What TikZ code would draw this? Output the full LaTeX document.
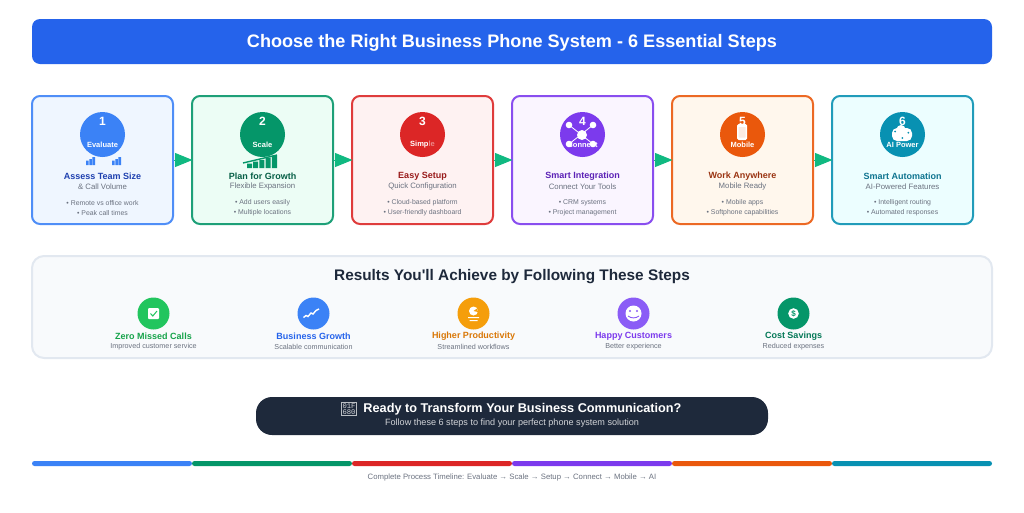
\documentclass[tikz,border=0pt]{standalone}
\usepackage{fontspec}
\setmainfont[Ligatures=TeXOff]{Liberation Sans}
\setmonofont{Liberation Mono}
\usetikzlibrary{arrows.meta}
\definecolor{cblue}{HTML}{3B82F6}
\definecolor{cgreen}{HTML}{059669}
\definecolor{cred}{HTML}{DC2626}
\definecolor{cpurple}{HTML}{7C3AED}
\definecolor{corange}{HTML}{EA580C}
\definecolor{cteal}{HTML}{0891B2}
\definecolor{bgblue}{HTML}{EFF6FF}
\definecolor{bggreen}{HTML}{ECFDF5}
\definecolor{bgred}{HTML}{FEF2F2}
\definecolor{bgpurple}{HTML}{FAF5FF}
\definecolor{bgorange}{HTML}{FFF7ED}
\definecolor{bgteal}{HTML}{ECFEFF}
\definecolor{tblue}{HTML}{1E40AF}
\definecolor{tgreen}{HTML}{065F46}
\definecolor{tred}{HTML}{991B1B}
\definecolor{tpurple}{HTML}{5B21B6}
\definecolor{torange}{HTML}{9A3412}
\definecolor{tteal}{HTML}{0E7490}
\definecolor{headblue}{HTML}{2563EB}
\definecolor{resgreen}{HTML}{22C55E}
\definecolor{labgreen}{HTML}{16A34A}
\definecolor{labmoney}{HTML}{047857}
\definecolor{resamber}{HTML}{F59E0B}
\definecolor{resamberdark}{HTML}{D97706}
\definecolor{respurple}{HTML}{8B5CF6}
\definecolor{panelline}{HTML}{E2E8F0}
\definecolor{panelfill}{HTML}{F8FAFC}
\definecolor{greyline}{HTML}{6B7280}
\definecolor{darkslate}{HTML}{1E293B}
\definecolor{arrowgreen}{HTML}{10B981}
\newcommand{\fs}[1]{\fontsize{#1}{#1}\selectfont}
\tikzset{
	card/.style={draw=#1!90!white, rectangle, rounded corners=8pt, line width=2pt, inner sep=0pt, minimum width=141pt, minimum height=128pt},
	badge/.style={circle, inner sep=0pt, minimum size=45pt, fill=#1},
	num/.style={text=white, inner sep=0pt, font=\fs{12}\bfseries},
	tag/.style={text=white, inner sep=0pt, font=\fs{7.5}\bfseries},
	steptitle/.style={text=#1, inner sep=0pt, font=\fs{9}\bfseries},
	stepsub/.style={text=greyline, inner sep=0pt, font=\fs{7.8}},
	bullets/.style={text=greyline, inner sep=0pt, align=center, font=\fontsize{6.9}{10}\selectfont},
	resbadge/.style={circle, inner sep=0pt, minimum size=32pt, fill=#1},
	restitle/.style={text=#1, inner sep=0pt, font=\fs{9}\bfseries},
	ressub/.style={text=greyline, inner sep=0pt, font=\fs{7.2}},
	bar/.style={rectangle, inner sep=0pt, minimum width=160pt, minimum height=5pt, rounded corners=2.5pt, fill=#1},
}

\begin{document}
\begin{tikzpicture}[x=1pt, y=-1pt]
	\useasboundingbox (0,0) rectangle (1024,512);
	
	% header
	\node (header) [rectangle, rounded corners=8pt, inner sep=0pt, minimum width=960pt, minimum height=45pt, fill=headblue] at (512,41.5) {};
	\node (headtext) [inner sep=0pt, text=white, font=\fs{18.1}\bfseries] at (512,42.5) {Choose the Right Business Phone System - 6 Essential Steps};
	
	% step cards
	\node (card1) [card=cblue, fill=bgblue] at (102.5,160) {};
	\node (card2) [card=cgreen, fill=bggreen, right of=card1, node distance=160pt] {};
	\node (card3) [card=cred, fill=bgred, right of=card2, node distance=160pt] {};
	\node (card4) [card=cpurple, fill=bgpurple, right of=card3, node distance=160pt] {};
	\node (card5) [card=corange, fill=bgorange, right of=card4, node distance=160pt] {};
	\node (card6) [card=cteal, fill=bgteal, right of=card5, node distance=160pt] {};
	
	\node (badge1) [badge=cblue, above of=card1, node distance=25.5pt] {};
	\node (badge2) [badge=cgreen, above of=card2, node distance=25.5pt] {};
	\node (badge3) [badge=cred, above of=card3, node distance=25.5pt] {};
	\node (badge4) [badge=cpurple, above of=card4, node distance=25.5pt] {};
	\node (badge5) [badge=corange, above of=card5, node distance=25.5pt] {};
	\node (badge6) [badge=cteal, above of=card6, node distance=25.5pt] {};
	
	% icons inside and under the badges
	\fill[cblue] (86,160.5) rectangle (88.6,165) (89.3,159) rectangle (91.9,165) (92.4,157) rectangle (95,165);
	\fill[cblue] (112,160.5) rectangle (114.6,165) (115.3,159) rectangle (117.9,165) (118.4,157) rectangle (121,165);
	\fill[cgreen] (247,163.5) rectangle (252,168) (253.2,161.5) rectangle (258.2,168) (259.4,159.8) rectangle (264.4,168) (265.6,157.7) rectangle (270.6,168) (271.8,155.7) rectangle (277,168);
	\draw[cgreen, line width=1.4pt] (243,163) -- (277,155);
	
	\draw[white, line width=0.8pt] (569,125) -- (593,144) (593,125) -- (569,144);
	\fill[white] (582,135) circle (5pt) (569,125) circle (3.3pt) (593,125) circle (3.3pt) (569,144) circle (3.3pt) (593,144) circle (3.3pt);
	
	\fill[white, rounded corners=1.5pt] (737,124) rectangle (747,140);
	\fill[corange!12!white, rounded corners=0.5pt] (738.5,127) rectangle (745.5,137.5);
	
	\fill[white, rounded corners=5pt] (892,128) rectangle (912,141);
	\fill[white] (901,129.5) circle (4.5pt);
	\fill[cteal] (895,131.5) circle (1pt) (908.3,132.7) circle (1pt) (902.3,138) circle (1pt);
	
	\node (num1) [num, above of=card1, node distance=39pt] {1};
	\node (num2) [num, above of=card2, node distance=39pt] {2};
	\node (num3) [num, above of=card3, node distance=39pt] {3};
	\node (num4) [num, above of=card4, node distance=39pt] {4};
	\node (num5) [num, above of=card5, node distance=39pt] {5};
	\node (num6) [num, above of=card6, node distance=39pt] {6};
	
	\node (tag1) [tag, above of=card1, node distance=15.5pt] {Evaluate};
	\node (tag2) [tag, above of=card2, node distance=15.5pt] {Scale};
	\node (tag3) [tag, above of=card3, node distance=15.5pt] {Simp\textcolor{white!45!cred}{le}};
	\node (tag4) [tag, above of=card4, node distance=15.5pt] {Connect};
	\node (tag5) [tag, above of=card5, node distance=15.5pt] {Mobile};
	\node (tag6) [tag, above of=card6, node distance=15.5pt] {AI Power};
	
	\node (title1) [steptitle=tblue, below of=card1, node distance=16.5pt] {Assess Team Size};
	\node (title2) [steptitle=tgreen, below of=card2, node distance=16.5pt] {Plan for Growth};
	\node (title3) [steptitle=tred, below of=card3, node distance=16.5pt] {Easy Setup};
	\node (title4) [steptitle=tpurple, below of=card4, node distance=16.5pt] {Smart Integration};
	\node (title5) [steptitle=torange, below of=card5, node distance=16.5pt] {Work Anywhere};
	\node (title6) [steptitle=tteal, below of=card6, node distance=16.5pt] {Smart Automation};
	
	\node (sub1) [stepsub, below of=card1, node distance=26.7pt] {\& Call Volume};
	\node (sub2) [stepsub, below of=card2, node distance=26.7pt] {Flexible Expansion};
	\node (sub3) [stepsub, below of=card3, node distance=26.7pt] {Quick Configuration};
	\node (sub4) [stepsub, below of=card4, node distance=26.7pt] {Connect Your Tools};
	\node (sub5) [stepsub, below of=card5, node distance=26.7pt] {Mobile Ready};
	\node (sub6) [stepsub, below of=card6, node distance=26.7pt] {AI-Powered Features};
	
	\node (list1) [bullets, below of=card1, node distance=47.7pt] {• Remote vs office work\\• Peak call times};
	\node (list2) [bullets, below of=card2, node distance=47.7pt] {• Add users easily\\• Multiple locations};
	\node (list3) [bullets, below of=card3, node distance=47.7pt] {• Cloud-based platform\\• User-friendly dashboard};
	\node (list4) [bullets, below of=card4, node distance=47.7pt] {• CRM systems\\• Project management};
	\node (list5) [bullets, below of=card5, node distance=47.7pt] {• Mobile apps\\• Softphone capabilities};
	\node (list6) [bullets, below of=card6, node distance=47.7pt] {• Intelligent routing\\• Automated responses};
	
	\begin{scope}[line width=1pt, arrowgreen, ->, >={Triangle[length=17.5pt, width=14pt]}, shorten >=-1.5pt]
		\draw (card1) -- (card2);
		\draw (card2) -- (card3);
		\draw (card3) -- (card4);
		\draw (card4) -- (card5);
		\draw (card5) -- (card6);
	\end{scope}
	
	% results panel
	\node (panel) [rectangle, rounded corners=12pt, line width=2pt, inner sep=0pt, minimum width=960pt, minimum height=102pt, draw=panelline, fill=panelfill] at (512,307) {};
	\node (restitle) [text=darkslate, inner sep=0pt, font=\fs{15.35}\bfseries] at (512,277) {Results You'll Achieve by Following These Steps};
	
	\node (res1) [resbadge=resgreen] at (153.5,313.5) {};
	\node (res2) [resbadge=cblue, right of=res1, node distance=160pt] {};
	\node (res3) [resbadge=resamber, right of=res2, node distance=160pt] {};
	\node (res4) [resbadge=respurple, right of=res3, node distance=160pt] {};
	\node (res5) [resbadge=cgreen, right of=res4, node distance=160pt] {};
	
	\fill[white, rounded corners=1pt] (148,308) rectangle (159,319);
	\draw[resgreen, line width=1pt] (150.5,313.5) -- (152.8,316) -- (157,311);
	\draw[white, line width=1.4pt] (303.5,317.5) -- (306,315.5) -- (308,316.5) -- (311,313) -- (313,314) -- (316,310.5) -- (319,309);
	\fill[white] (473.5,311) circle (4.5pt);
	\fill[resamber] (473.5,311) -- (477,308.5) -- (478,312) -- cycle;
	\fill[white] (468,317) rectangle (479,318) (469.5,320) rectangle (477.5,321);
	\fill[white] (633.5,313.5) circle (8pt);
	\fill[respurple] (630,311) circle (1.1pt) (637,311) circle (1.1pt);
	\draw[respurple, line width=0.9pt] (628,316) .. controls (631,318.5) and (636,318.5) .. (639,316);
	\fill[white] (793.5,313.5) circle (5.3pt);
	\node (dollar) [text=cgreen, inner sep=0pt, font=\fs{8}\bfseries] at (793.5,313.5) {\$};
	
	\node (lab1) [restitle=labgreen, below of=res1, node distance=22.7pt] {Zero Missed Calls};
	\node (lab2) [restitle=headblue, below of=res2, node distance=22.7pt] {Business Growth};
	\node (lab3) [restitle=resamberdark, below of=res3, node distance=22.7pt] {Higher Productivity};
	\node (lab4) [restitle=cpurple, below of=res4, node distance=22.7pt] {Happy Customers};
	\node (lab5) [restitle=labmoney, below of=res5, node distance=22.7pt] {Cost Savings};
	
	\node (note1) [ressub, below of=res1, node distance=33.5pt] {Improved customer service};
	\node (note2) [ressub, below of=res2, node distance=33.5pt] {Scalable communication};
	\node (note3) [ressub, below of=res3, node distance=33.5pt] {Streamlined workflows};
	\node (note4) [ressub, below of=res4, node distance=33.5pt] {Better experience};
	\node (note5) [ressub, below of=res5, node distance=33.5pt] {Reduced expenses};
	
	% call to action
	\node (cta) [rectangle, rounded corners=16pt, inner sep=0pt, minimum width=512pt, minimum height=38pt, fill=darkslate] at (512,416) {};
	\node (ctatitle) [text=white, inner sep=0pt, font=\fs{12.7}\bfseries] at (522.5,409) {Ready to Transform Your Business Communication?};
	\node (ctasub) [text=white!80!darkslate, inner sep=0pt, font=\fs{9.1}] at (512,423) {Follow these 6 steps to find your perfect phone system solution};
	\node (rocket) [draw=white!70!darkslate, line width=0.4pt, rectangle, inner sep=0.9pt, align=center, text=white!80!darkslate, font=\fontsize{7.2}{6}\ttfamily, left of=ctatitle, node distance=173.5pt] {01F\\680};
	
	% timeline
	\node (bar1) [bar=cblue] at (112,463.5) {};
	\node (bar2) [bar=cgreen, right of=bar1, node distance=160pt] {};
	\node (bar3) [bar=cred, right of=bar2, node distance=160pt] {};
	\node (bar4) [bar=cpurple, right of=bar3, node distance=160pt] {};
	\node (bar5) [bar=corange, right of=bar4, node distance=160pt] {};
	\node (bar6) [bar=cteal, right of=bar5, node distance=160pt] {};
	\node (timeline) [text=greyline, inner sep=0pt, font=\fs{7.75}] at (512,477.5) {Complete Process Timeline: Evaluate → Scale → Setup → Connect → Mobile → AI};
\end{tikzpicture}
\end{document}
